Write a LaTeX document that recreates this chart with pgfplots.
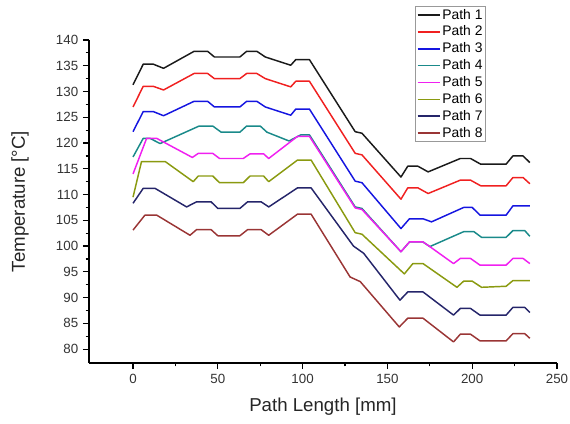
\documentclass[border=0pt]{standalone}
\usepackage{pgfplots}
\pgfplotsset{compat=1.18}
\usepackage{fontspec}
\setmainfont{Liberation Sans}
\definecolor{c1}{HTML}{1A1A1A}
\definecolor{c2}{HTML}{F02020}
\definecolor{c3}{HTML}{1515E0}
\definecolor{c4}{HTML}{1A8A8A}
\definecolor{c5}{HTML}{F020F0}
\definecolor{c6}{HTML}{8A9A10}
\definecolor{c7}{HTML}{25256A}
\definecolor{c8}{HTML}{9A3535}
\begin{document}
\begin{tikzpicture}
\begin{axis}[
  scale only axis,
  width=351pt, height=242.25pt,
  xmin=-26, xmax=250, ymin=77.3, ymax=140,
  axis x line*=bottom, axis y line*=left,
  axis line style={-, line width=1pt, black},
  tick align=outside,
  major tick length=4.5pt, minor tick length=2.5pt,
  tick style={line width=0.9pt, black},
  xtick={0,50,100,150,200,250},
  ytick={80,85,...,140},
  minor x tick num=1, minor y tick num=1,
  /pgf/number format/assume math mode=true,
  tick label style={font=\fontsize{10}{12}\selectfont, color=black!80},
  xlabel={Path Length [mm]},
  ylabel={Temperature [°C]},
  label style={font=\fontsize{14}{16}\selectfont, color=black!85},
  xlabel style={at={(axis description cs:0.5,-0.136)}, anchor=center},
  ylabel style={at={(axis description cs:-0.147,0.5)}, anchor=center},
  legend style={at={(0.697,1.105)}, anchor=north west, draw=black!40, line width=0.5pt,
    font=\fontsize{10.4}{11}\selectfont, inner sep=1pt, row sep=1.6pt,
    nodes={inner sep=1pt}},
  legend cell align=left,
  every axis plot/.append style={line width=1.1pt, line join=round},
  clip=false,
]
\addplot[c1] coordinates {(0,131.3)(6,135.3)(12,135.3)(18,134.5)(36,137.8)(44,137.8)(48,136.7)(63,136.7)(67,137.8)(73,137.8)(78,136.7)(93,135.1)(96,136.2)(104,136.2)(131,122.2)(135,121.9)(158,113.4)(162,115.5)(168,115.5)(174,114.4)(193,117.0)(199,117.0)(205,115.9)(220,115.9)(224,117.5)(230,117.5)(234,116.2)};
\addlegendentry{Path 1}
\addplot[c2] coordinates {(0,127.0)(6,131.0)(12,131.0)(18,130.3)(36,133.5)(44,133.5)(48,132.5)(63,132.5)(67,133.5)(73,133.5)(78,132.5)(93,130.9)(96,132.0)(104,132.0)(131,118.0)(135,117.7)(158,109.1)(162,111.3)(168,111.3)(174,110.2)(193,112.8)(199,112.8)(205,111.7)(220,111.7)(224,113.3)(230,113.3)(234,112.1)};
\addlegendentry{Path 2}
\addplot[c3] coordinates {(0,122.2)(6,126.1)(12,126.1)(18,125.3)(36,128.1)(44,128.1)(48,127.0)(63,127.0)(67,128.1)(73,128.1)(78,127.0)(93,125.4)(96,126.6)(104,126.6)(131,112.6)(135,112.3)(158,103.4)(163,105.3)(171,105.3)(176,104.7)(195,107.5)(200,107.5)(204.6,106.0)(220,106.0)(224,107.8)(234,107.8)};
\addlegendentry{Path 3}
\addplot[c4] coordinates {(0,117.3)(6,120.9)(10,120.9)(16,119.9)(39,123.3)(47,123.3)(52,122.1)(63,122.1)(67,123.3)(75,123.3)(79,122.1)(92,120.4)(99,121.6)(104,121.6)(131,107.6)(135,107.3)(158,98.9)(163,100.8)(171,100.8)(175,99.9)(195,102.8)(201,102.8)(205.5,101.7)(220,101.7)(224,103.0)(231,103.0)(234,101.9)};
\addlegendentry{Path 4}
\addplot[c5] coordinates {(0,114.0)(8,120.9)(14,120.9)(35,117.2)(38.5,118.0)(47,118.0)(51,117.0)(65,117.0)(69,117.9)(77,117.9)(80,117.0)(97,121.3)(104,121.3)(131,107.4)(135,107.1)(158,98.9)(163,100.8)(171,100.8)(175,99.9)(189,96.6)(193,97.6)(199,97.6)(204.6,96.3)(220,96.3)(224,97.6)(230,97.6)(234,96.6)};
\addlegendentry{Path 5}
\addplot[c6] coordinates {(0,109.5)(5,116.4)(19,116.4)(35.5,112.5)(38.5,113.6)(47,113.6)(51,112.3)(65,112.3)(69,113.6)(77,113.6)(80,112.5)(97,116.7)(105,116.7)(131,102.6)(135,102.3)(160,94.6)(165,96.6)(171,96.6)(191,92.0)(195,93.2)(200,93.2)(205.5,92.0)(220,92.2)(224,93.3)(234,93.3)};
\addlegendentry{Path 6}
\addplot[c7] coordinates {(0,108.3)(6,111.2)(13,111.2)(31.6,107.6)(37.5,108.6)(46,108.6)(50,107.3)(63,107.3)(67.6,108.6)(75.5,108.6)(80,107.6)(97,111.3)(105,111.3)(130,100.0)(136,98.6)(157.4,89.5)(162,91.1)(171,91.1)(189,86.6)(193,87.9)(199,87.9)(204.6,86.6)(220,86.6)(224,88.1)(231,88.1)(234,87.1)};
\addlegendentry{Path 7}
\addplot[c8] coordinates {(0,103.1)(7,106.0)(14,106.0)(33.6,102.1)(37.5,103.2)(46,103.2)(50,102.0)(63,102.0)(67.6,103.2)(75.5,103.2)(80,102.1)(97,106.2)(105,106.2)(128,94.0)(134,93.1)(157,84.3)(162,86.0)(171,86.0)(189,81.4)(193,82.9)(199,82.9)(204.6,81.6)(220,81.6)(224,83.0)(231,83.0)(234,82.1)};
\addlegendentry{Path 8}
\coordinate (bbl) at (rel axis cs:-0.190,-0.1858);
\coordinate (btr) at (rel axis cs:1.0278,1.1238);
\end{axis}
\pgfresetboundingbox
\path (bbl) rectangle (btr);
\end{tikzpicture}
\end{document}
